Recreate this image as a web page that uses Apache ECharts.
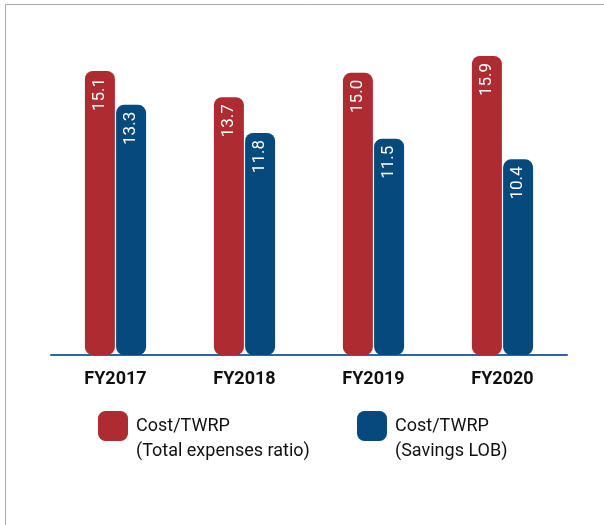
<!DOCTYPE html>
<html>
<head>
<meta charset="utf-8">
<style>html,body{margin:0;padding:0;background:#fff;}#c{width:604px;height:525px;}</style>
<script src="https://cdn.jsdelivr.net/npm/echarts@6/dist/echarts.min.js"></script>
</head>
<body>
<div id="c"></div>
<script>
const categories = ['FY2017', 'FY2018', 'FY2019', 'FY2020'];
const totalExpenses = [15.1, 13.7, 15.0, 15.9];
const savingsLOB = [13.3, 11.8, 11.5, 10.4];
const seriesNames = ['Cost/TWRP\n(Total expenses ratio)', 'Cost/TWRP\n(Savings LOB)'];

const FONT = 'Roboto, "Noto Sans", sans-serif';
const RED = '#AD2B31';
const BLUE = '#05497D';

const chart = echarts.init(document.getElementById('c'), null, {renderer: 'canvas'});

const barLabel = {
  show: true,
  position: 'insideTop',
  rotate: 90,
  align: 'right',
  verticalAlign: 'middle',
  distance: 7,
  color: '#fff',
  fontFamily: FONT,
  fontSize: 17,
  formatter: p => p.value.toFixed(1)
};

const legendText = {
  fontFamily: FONT,
  fontSize: 18,
  color: '#111',
  lineHeight: 25,
  padding: [0, 0, 0, 3]
};

chart.setOption({
  animation: false,
  backgroundColor: '#fff',
  graphic: [{
    type: 'rect',
    shape: {x: 5.5, y: 4.5, width: 800, height: 800},
    style: {fill: 'none', stroke: '#a8a8a8', lineWidth: 1},
    silent: true
  }],
  grid: {left: 51, right: 37, top: 54, bottom: 170},
  legend: [{
    data: [seriesNames[0]],
    left: 98, top: 388.5, padding: 0,
    itemWidth: 30, itemHeight: 30,
    icon: 'roundRect',
    formatter: n => ' \n' + n,
    textStyle: legendText
  }, {
    data: [seriesNames[1]],
    left: 357, top: 388.5, padding: 0,
    itemWidth: 30, itemHeight: 30,
    icon: 'roundRect',
    formatter: n => ' \n' + n,
    textStyle: legendText
  }],
  xAxis: {
    type: 'category',
    data: categories,
    axisLine: {show: true, lineStyle: {color: '#2F6699', width: 2}},
    axisTick: {show: false},
    axisLabel: {
      fontFamily: FONT, fontSize: 18, fontWeight: 'bold', color: '#111', margin: 15
    }
  },
  yAxis: {
    type: 'value', min: 0, max: 16, show: false,
    splitLine: {show: false}
  },
  series: [{
    name: seriesNames[0],
    type: 'bar',
    data: totalExpenses,
    barWidth: 30,
    barGap: '4%',
    itemStyle: {color: RED, borderRadius: 8},
    label: barLabel,
    z: 1
  }, {
    name: seriesNames[1],
    type: 'bar',
    data: savingsLOB,
    barWidth: 30,
    barGap: '4%',
    itemStyle: {color: BLUE, borderRadius: 8},
    label: barLabel,
    z: 1
  }]
});
</script>
</body>
</html>
